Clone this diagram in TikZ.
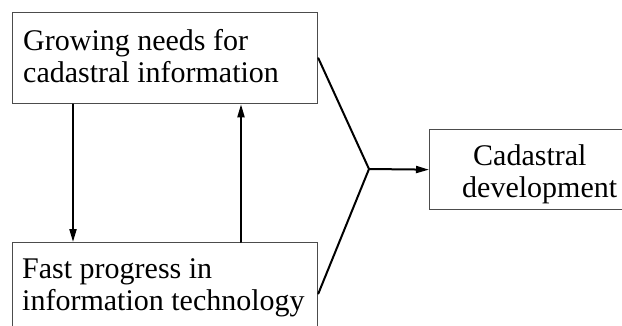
\documentclass[tikz,border=0pt]{standalone}
\usepackage{fontspec}
\setmainfont{Liberation Serif}
\usetikzlibrary{arrows.meta}
\begin{document}
\begin{tikzpicture}[x=1pt,y=-1pt,
  box/.style={draw=black!70,line width=1.3pt,inner sep=0pt,anchor=north west},
  txt/.style={inner sep=0pt,anchor=base west,align=left,
    font=\fontsize{30}{32}\selectfont},
  link/.style={line width=2pt,line cap=round},
  arr/.style={link,-{Triangle[length=13pt,width=7pt]}}]
\useasboundingbox (0,0) rectangle (622,325);
\clip (0,0) rectangle (622,325);
% boxes
\node[box,minimum width=305pt,minimum height=91pt] (needs) at (12,12) {};
\node[box,minimum width=305pt,minimum height=102pt] (progress) at (12,242) {};
\node[box,minimum width=230pt,minimum height=80pt] (dev) at (429,129) {};
% texts (anchored at the baseline of the last line)
\node[txt] (needstxt) at (23,82) {Growing needs for\\cadastral information};
\node[txt] (progresstxt) at (22,310) {Fast progress in\\information technology};
\node[txt] (devtxt) at (462,197) {\hspace*{11pt}Cadastral\\development};
% connectors
\coordinate (dx) at (73,0);
\coordinate (ux) at (241,0);
\coordinate (jn) at (369,169);
\draw[arr] (needs.south -| dx) -- (progress.north -| dx);
\draw[arr] (progress.north -| ux) -- (needs.south -| ux);
\draw[link] (needs.east) -- (jn) -- (progress.east);
\draw[arr] (jn) -- (dev.west);
\end{tikzpicture}
\end{document}
